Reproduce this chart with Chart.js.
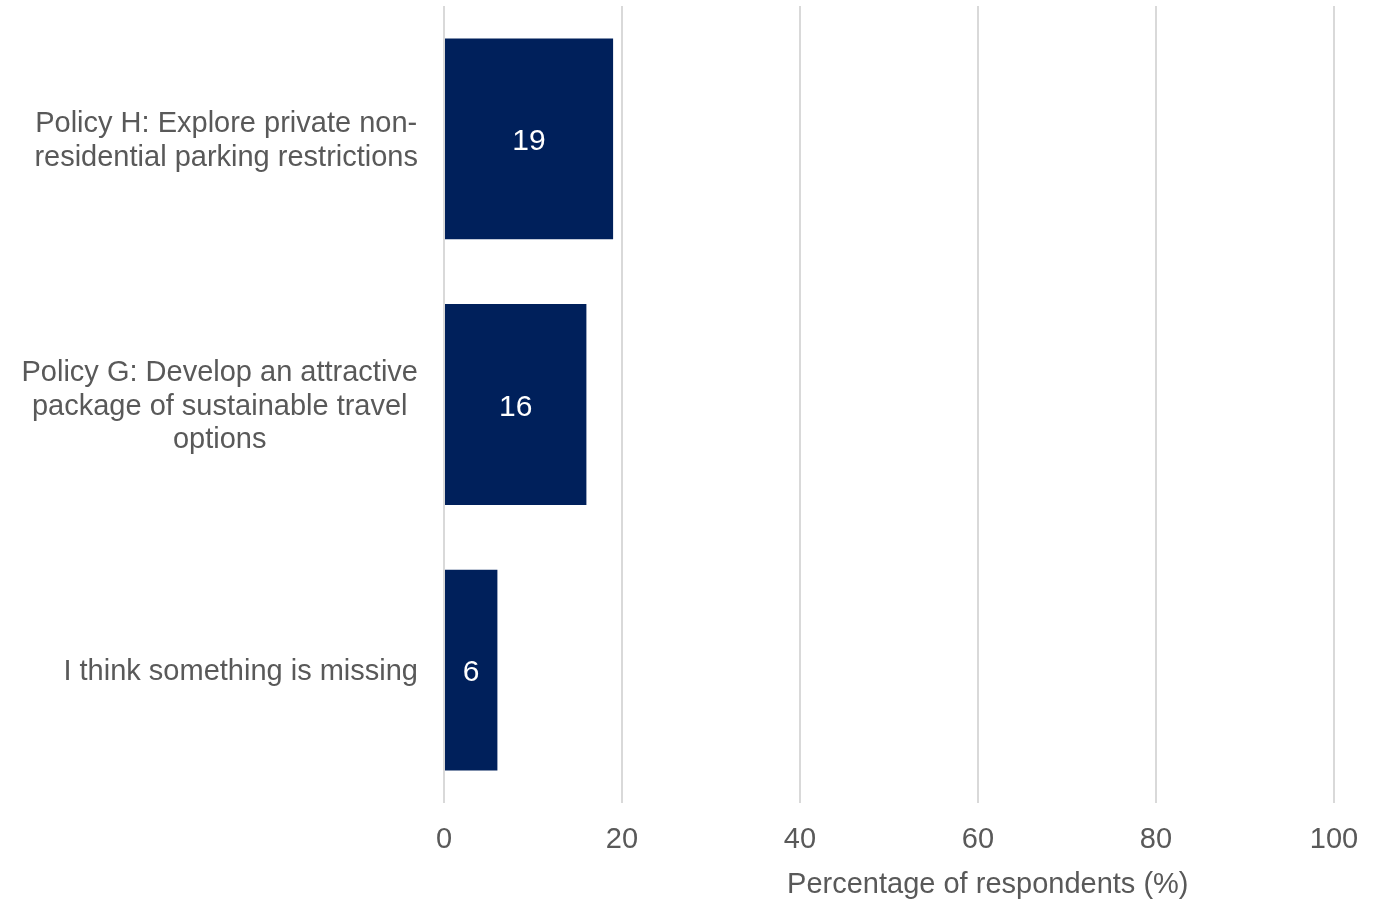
<!DOCTYPE html>
<html>
<head>
<meta charset="utf-8">
<script src="https://cdn.jsdelivr.net/npm/chart.js@4/dist/chart.umd.min.js"></script>
<style>
  html, body { margin: 0; padding: 0; background: #ffffff; }
  #wrap { width: 1381px; height: 899px; position: relative; }
</style>
</head>
<body>
<div id="wrap"><canvas id="chart"></canvas></div>
<script>
// Survey responses: share of respondents per option
const categories = [
  ["Policy H: Explore private non-", "residential parking restrictions"],
  ["Policy G: Develop an attractive", "package of sustainable travel", "options"],
  ["I think something is missing"]
];
const percentages = [19, 16, 6];
const xTicks = [0, 20, 40, 60, 80, 100];
const xTitle = "Percentage of respondents (%)";

const FONT = "'Liberation Sans', Arial, sans-serif";
const GREY = "#595959";
const NAVY = "#00205B";

// Category labels: each block right-aligned against the axis, lines centred within the block
const categoryLabels = {
  id: 'categoryLabels',
  afterDraw(chart) {
    const ctx = chart.ctx;
    const y = chart.scales.y;
    const right = 418;
    const lh = 33.5;
    ctx.save();
    ctx.font = "29px " + FONT;
    ctx.fillStyle = GREY;
    ctx.textAlign = 'center';
    ctx.textBaseline = 'middle';
    categories.forEach((lines, i) => {
      const cy = y.getPixelForTick(i) + 2;
      const w = Math.max(...lines.map(l => ctx.measureText(l).width));
      const cx = right - w / 2;
      const start = cy - (lines.length - 1) * lh / 2;
      lines.forEach((l, k) => ctx.fillText(l, cx, start + k * lh));
    });
    ctx.restore();
  }
};

// Axis title under the value axis
const axisTitle = {
  id: 'axisTitle',
  afterDraw(chart) {
    const ctx = chart.ctx;
    const x = chart.scales.x;
    ctx.save();
    ctx.font = "29px " + FONT;
    ctx.fillStyle = GREY;
    ctx.textAlign = 'center';
    ctx.textBaseline = 'middle';
    ctx.fillText(xTitle, x.getPixelForValue(61.1), 885);
    ctx.restore();
  }
};

// Value labels in white at the middle of each bar
const valueLabels = {
  id: 'valueLabels',
  afterDatasetsDraw(chart) {
    const ctx = chart.ctx;
    const meta = chart.getDatasetMeta(0);
    ctx.save();
    ctx.font = "30px " + FONT;
    ctx.fillStyle = "#ffffff";
    ctx.textAlign = 'center';
    ctx.textBaseline = 'middle';
    meta.data.forEach((bar, i) => {
      const cx = (bar.x + bar.base) / 2;
      ctx.fillText(String(percentages[i]), cx, bar.y + 3);
    });
    ctx.restore();
  }
};

new Chart(document.getElementById('chart'), {
  type: 'bar',
  data: {
    labels: categories.map(c => c.join(' ')),
    datasets: [{
      data: percentages,
      backgroundColor: NAVY,
      borderWidth: 0,
      barPercentage: 0.756,
      categoryPercentage: 1
    }]
  },
  options: {
    indexAxis: 'y',
    responsive: true,
    maintainAspectRatio: false,
    animation: false,
    layout: { padding: { top: 6, right: 47, bottom: 0, left: 0 } },
    plugins: { legend: { display: false }, tooltip: { enabled: false } },
    scales: {
      x: {
        min: 0, max: 100,
        afterBuildTicks(scale) { scale.ticks = xTicks.map(v => ({ value: v })); },
        grid: { color: '#d9d9d9', lineWidth: 2, drawTicks: false },
        border: { display: false },
        ticks: { color: GREY, font: { family: FONT, size: 29 }, padding: 20 },
        afterFit(scale) { scale.height = 96; }
      },
      y: {
        grid: { display: false },
        border: { display: false },
        ticks: { display: false },
        afterFit(scale) { scale.width = 444; }
      }
    }
  },
  plugins: [categoryLabels, valueLabels, axisTitle]
});
</script>
</body>
</html>
